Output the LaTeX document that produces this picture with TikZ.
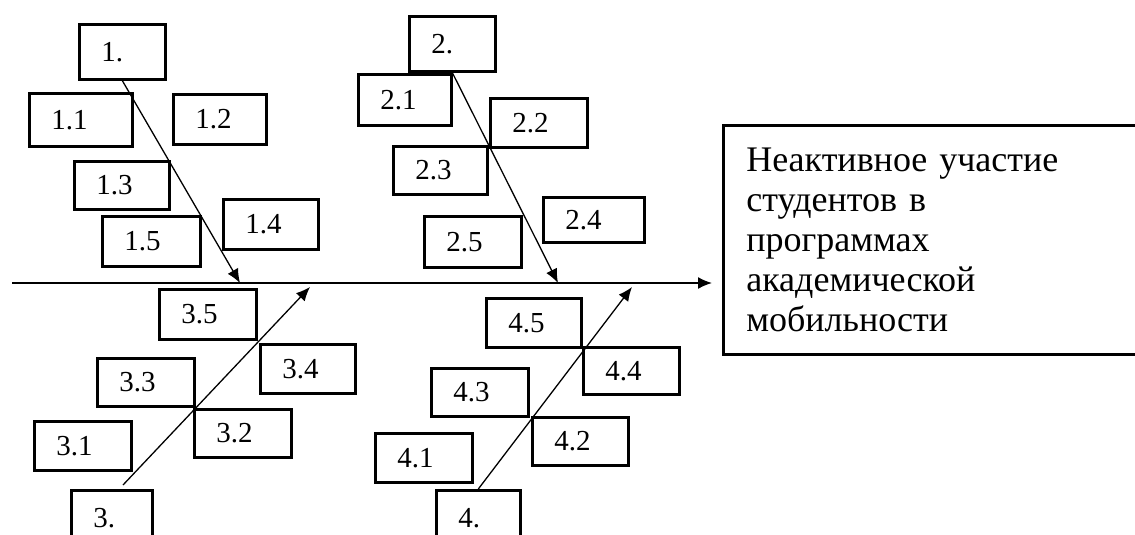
\documentclass[tikz,border=0pt]{standalone}
\usepackage{fontspec}
\setmainfont{Liberation Serif}
\usetikzlibrary{arrows.meta,positioning,calc}
\tikzset{
cause/.style 2 args = {draw, line width=2.6pt, rectangle, anchor=north west, inner xsep=22pt, inner ysep=0pt, text width=#1, minimum height=#2, align=left, font=\fontsize{29}{32}\selectfont},
effect/.style = {draw, line width=2.6pt, rectangle, anchor=north west, inner xsep=23pt, inner ysep=0pt, text width=400pt, minimum height=229pt, align=left, font=\fontsize{36}{40}\selectfont},
bone/.style = {->, line width=1.3pt},
spine/.style = {->, line width=1.6pt, shorten >=10pt}
}

\begin{document}
\begin{tikzpicture}[x=1pt, y=-1pt, >={Latex[length=14pt,width=12pt]}]
  \useasboundingbox (0,0) rectangle (1135,535);
  \clip (0,0) rectangle (1135,535);
  % effect
  \node [effect] (effect) at (722,124) {Неактивное участие\\студентов в\\программах\\академической\\мобильности};
  % causes, top
  \node [cause={42pt}{55pt}] (c1) at (78,23) {1.};
  \node [cause={59pt}{53pt}] (c11) at (28,92) {1.1};
  \node [cause={49pt}{50pt}] (c12) at (172,93) {1.2};
  \node [cause={51pt}{48pt}] (c13) at (73,160) {1.3};
  \node [cause={51pt}{50pt}] (c14) at (222,198) {1.4};
  \node [cause={54pt}{50pt}] (c15) at (101,215) {1.5};
  \node [cause={42pt}{55pt}] (c2) at (408,15) {2.};
  \node [cause={49pt}{51pt}] (c21) at (357,73) {2.1};
  \node [cause={53pt}{49pt}] (c22) at (489,97) {2.2};
  \node [cause={50pt}{48pt}] (c23) at (392,145) {2.3};
  \node [cause={57pt}{45pt}] (c24) at (542,196) {2.4};
  \node [cause={53pt}{51pt}] (c25) at (423,215) {2.5};
  % causes, bottom
  \node [cause={37pt}{55pt}] (c3) at (70,489) {3.};
  \node [cause={53pt}{49pt}] (c31) at (33,420) {3.1};
  \node [cause={53pt}{48pt}] (c32) at (193,408) {3.2};
  \node [cause={53pt}{48pt}] (c33) at (96,357) {3.3};
  \node [cause={51pt}{49pt}] (c34) at (259,343) {3.4};
  \node [cause={53pt}{50pt}] (c35) at (158,288) {3.5};
  \node [cause={40pt}{55pt}] (c4) at (435,489) {4.};
  \node [cause={53pt}{49pt}] (c41) at (374,432) {4.1};
  \node [cause={52pt}{48pt}] (c42) at (531,416) {4.2};
  \node [cause={53pt}{48pt}] (c43) at (430,367) {4.3};
  \node [cause={52pt}{47pt}] (c44) at (582,346) {4.4};
  \node [cause={51pt}{49pt}] (c45) at (485,297) {4.5};
  % spine and bones
  \coordinate (s0) at (12,283);
  \coordinate (h1) at (240,283);
  \coordinate (h2) at (558,283);
  \coordinate (h3) at (310,287);
  \coordinate (h4) at (632,287);
  \coordinate (t3) at (123,485);
  \draw [spine] (s0) -- (s0 -| effect.west);
  \draw [bone] (c1.south) -- (h1);
  \draw [bone] (c2.south) -- (h2);
  \draw [bone] (t3) -- (h3);
  \draw [bone] (c4.north) -- (h4);
\end{tikzpicture}
\end{document}
